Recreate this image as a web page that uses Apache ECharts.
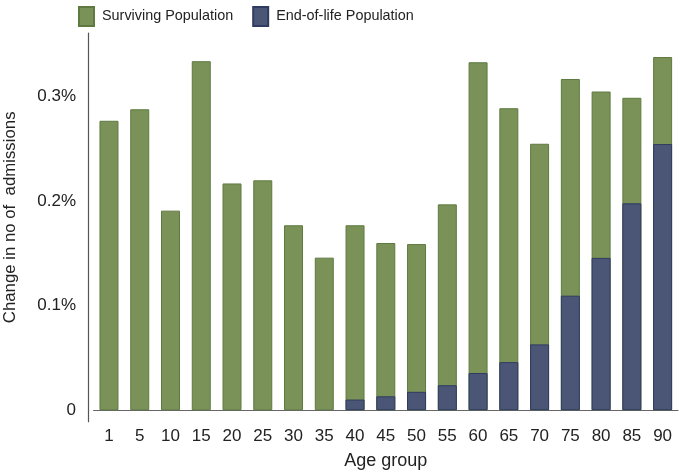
<!DOCTYPE html>
<html>
<head>
<meta charset="utf-8">
<script src="https://cdn.jsdelivr.net/npm/echarts@6/dist/echarts.min.js"></script>
<style>html,body{margin:0;padding:0;background:#fff}#c{width:685px;height:472px}</style>
</head>
<body>
<div id="c"></div>
<script>
const ageGroups = ['1','5','10','15','20','25','30','35','40','45','50','55','60','65','70','75','80','85','90'];
// total bar height (percent)
const survivingTotal = [0.277,0.288,0.191,0.334,0.217,0.220,0.177,0.146,0.177,0.160,0.159,0.197,0.333,0.289,0.255,0.317,0.305,0.299,0.338];
// end-of-life portion (percent); no bar for the youngest groups
const endOfLife = [null,null,null,null,null,null,null,null,0.0102,0.0133,0.0176,0.0239,0.0356,0.046,0.063,0.1096,0.1458,0.198,0.2547];
const yTickValues = [0,0.1,0.2,0.3];

const chart = echarts.init(document.getElementById('c'));
const font = 'Liberation Sans, Arial, sans-serif';
chart.setOption({
  animation:false,
  textStyle:{fontFamily:font},
  legend:{
    top:1, left:73, itemWidth:15, itemHeight:19, itemGap:19, icon:'rect',
    textStyle:{fontSize:14.4, color:'#222', fontFamily:font, padding:[0,0,0,3]},
    data:['Surviving Population','End-of-life Population']
  },
  grid:{left:93.6, right:7, top:33, bottom:50.3, outerBoundsMode:'none', containLabel:false},
  xAxis:{
    type:'category', data:ageGroups,
    name:'Age group', nameLocation:'middle', nameGap:30,
    nameTextStyle:{fontSize:18, color:'#222', fontFamily:font},
    axisLine:{lineStyle:{color:'#666', width:1.2}},
    axisTick:{show:false},
    axisLabel:{fontSize:17, color:'#222', margin:6, fontFamily:font, interval:0}
  },
  yAxis:{
    type:'value', min:-0.011, max:0.361, offset:5.6,
    name:'Change in no of  admissions', nameLocation:'middle', nameGap:69,
    nameTextStyle:{fontSize:16.8, color:'#222', fontFamily:font, padding:[0,0,0,20]},
    axisLine:{show:true, lineStyle:{color:'#555', width:1.2}},
    axisTick:{show:false},
    splitLine:{show:false},
    axisLabel:{
      customValues:yTickValues, fontSize:17, color:'#222', margin:12, fontFamily:font,
      formatter:v => v === 0 ? '0' : v.toFixed(1) + '%'
    }
  },
  series:[
    {name:'Surviving Population', type:'bar', data:survivingTotal, barWidth:19,
     itemStyle:{color:'#7a9257', borderColor:'#5e7a40', borderWidth:1}},
    {name:'End-of-life Population', type:'bar', data:endOfLife, barWidth:19, barGap:'-100%',
     itemStyle:{color:'#4b5677', borderColor:'#2f3b60', borderWidth:1}}
  ]
});
</script>
</body>
</html>
